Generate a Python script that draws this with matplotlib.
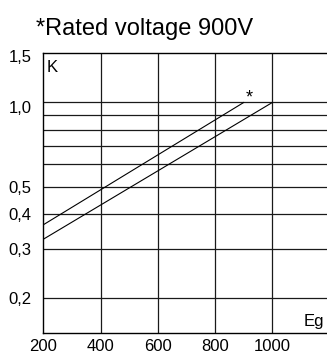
import matplotlib
matplotlib.use("Agg")
import matplotlib.pyplot as plt
import matplotlib.transforms as mtransforms
from matplotlib.ticker import FixedLocator, NullLocator

plt.rcParams['font.family'] = ['Liberation Sans', 'DejaVu Sans']

# curves (Eg in V, K factor)
eg_rated = [200, 900]
k_rated = [0.365, 1.0]
eg_other = [200, 1000]
k_other = [0.324, 1.0]

x_ticks = [200, 400, 600, 800, 1000]
x_grid = [400, 600, 800, 1000]
y_ticks = [0.2, 0.3, 0.4, 0.5, 1.0, 1.5]
y_tick_labels = ['0,2', '0,3', '0,4', '0,5', '1,0', '1,5']
y_grid = [0.2, 0.3, 0.4, 0.5, 0.6, 0.7, 0.8, 0.9, 1.0]

fig = plt.figure(figsize=(3.27, 3.55), dpi=100)
ax = fig.add_axes([0.1324, 0.0628, 0.8676, 0.7871])

ax.set_yscale('log')
ax.set_xlim(200, 1191)
ax.set_ylim(0.15, 1.5)

# grid drawn by hand so only the wanted lines show
for gx in x_grid:
    ax.axvline(gx, color='#1a1a1a', lw=0.9, zorder=1)
for gy in y_grid:
    ax.axhline(gy, color='#1a1a1a', lw=0.9, zorder=1)

ax.plot(eg_rated, k_rated, color='black', lw=0.8, zorder=3)
ax.plot(eg_other, k_other, color='black', lw=0.8, zorder=3)
ax.text(eg_rated[-1] + 18, 1.04, '*', fontsize=13, ha='center', va='center')

ax.xaxis.set_major_locator(FixedLocator(x_ticks))
ax.set_xticklabels([str(v) for v in x_ticks])
ax.yaxis.set_major_locator(FixedLocator(y_ticks))
ax.yaxis.set_minor_locator(NullLocator())
ax.set_yticklabels(y_tick_labels)
ax.tick_params(axis='both', length=0, labelsize=12)
ax.tick_params(axis='y', pad=8.5)
ax.tick_params(axis='x', pad=4.5)

# nudge the top two labels down a little, as in the original
for lab in ax.get_yticklabels():
    if lab.get_text() in ('1,0', '1,5'):
        shift = -5 if lab.get_text() == '1,0' else -3
        lab.set_transform(lab.get_transform() +
                          mtransforms.ScaledTranslation(0, shift / 100, fig.dpi_scale_trans))

for side in ('top', 'left', 'bottom'):
    ax.spines[side].set_color('black')
    ax.spines[side].set_linewidth(1.0)
ax.spines['right'].set_visible(False)

ax.text(0.013, 0.975, 'K', transform=ax.transAxes, fontsize=12, ha='left', va='top')
ax.text(0.99, 0.015, 'Eg', transform=ax.transAxes, fontsize=12, ha='right', va='bottom')

fig.text(0.442, 0.9014, '*Rated voltage 900V', fontsize=17, ha='center', va='baseline')

fig.savefig('out.png', dpi=100)
